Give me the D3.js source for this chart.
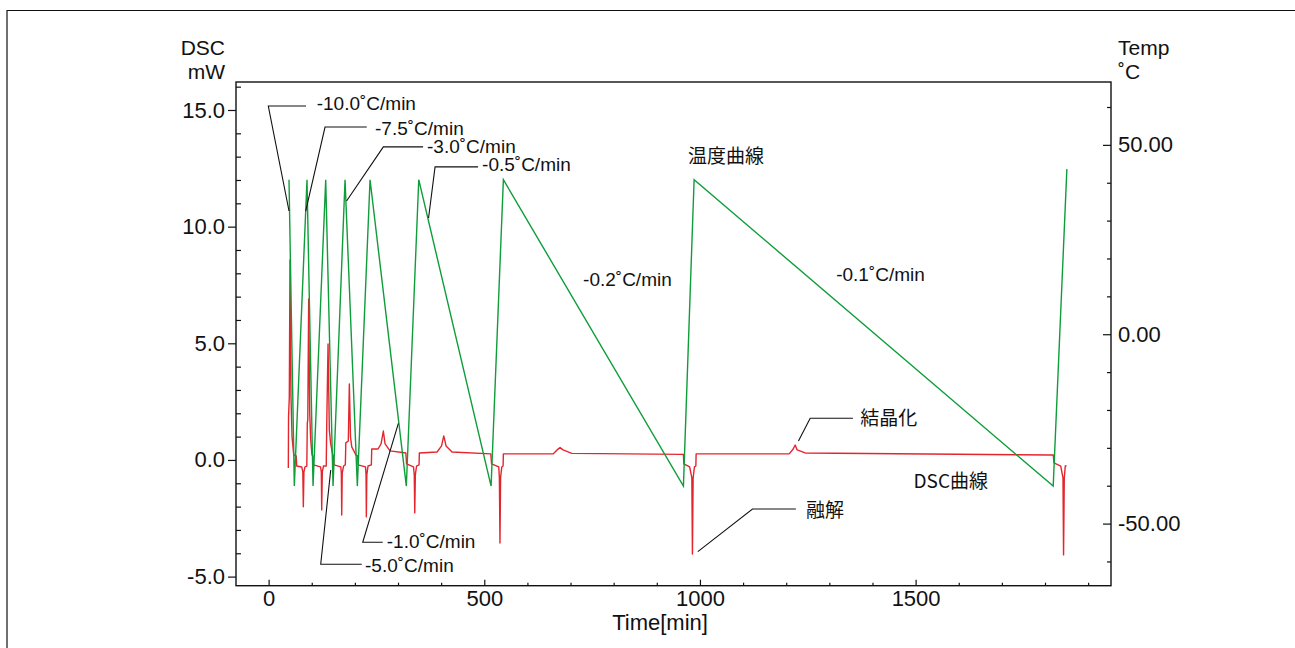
<!DOCTYPE html>
<html lang="ja">
<head>
<meta charset="UTF-8">
<title>DSC</title>
<script src="https://cdn.jsdelivr.net/npm/d3@7"></script>
<style>
    body { margin: 0; background: #fff; }
    svg { display: block; }
    text { font-family: "Liberation Sans", Arial, sans-serif; fill: #111; }
    .jp { font-family: "Noto Sans CJK JP", sans-serif; }
</style>
</head>
<body>
<script>

    // TEMPERATURE PROGRAM (time in min, temp in C)
    const tempTime = [47.3, 59.6, 89.0, 103.0, 132.4, 149.4, 177.2, 205.7, 235.2, 319.3, 348.1, 515.8, 544.3, 961.7, 986.5, 1819.0, 1850.7]
    const tempVal  = [40.8, -40.1, 40.8, -40.1, 40.8, -40.1, 40.8, -40.1, 40.8, -40.1, 40.8, -40.1, 40.8, -40.1, 40.8, -40.1, 43.6]

    // DSC SIGNAL (time in min, mW)
    const dscTime = [45.7, 46.2, 48.0, 49.6, 51.9, 54.3, 58.2, 64.0, 65.2, 76.8, 79.3, 80.5, 81.9, 84.4, 88.6,
        89.7, 90.8, 92.9, 95.3, 97.6, 100.6, 103.0, 104.1, 120.4, 122.2, 123.1, 124.5, 127.3,
        133.6, 134.7, 137.8, 140.8, 143.6, 148.7, 150.5, 151.7, 167.4, 168.6, 169.5, 170.7, 173.7,
        177.9, 179.0, 184.8, 187.2, 189.9, 192.7, 202.7, 206.6, 207.3, 224.7, 225.9, 226.6, 227.7, 230.5,
        238.2, 239.1, 253.7, 260.7, 266.0, 270.0, 281.5, 318.2, 319.8, 336.0, 337.7, 338.8, 340.2, 343.0,
        348.8, 349.5, 390.5, 401.0, 406.1, 411.4, 425.3, 515.1, 516.9, 533.6, 535.0, 536.4, 537.8, 540.6,
        543.6, 544.3, 659.5, 668.8, 675.7, 682.7, 702.9, 961.7, 962.6, 976.1, 981.2, 982.6, 984.2, 987.3,
        990.5, 991.2, 1206.9, 1216.2, 1220.8, 1225.4, 1244.0, 1819.2, 1820.8, 1836.5, 1841.7, 1843.0, 1844.7,
        1847.0, 1850.0]
    const dscVal = [-0.34, 1.84, 2.70, 8.57, 2.70, 0.99, 0.21, 0.17, -0.26, -0.30, -0.51, -2.01, -0.51, -0.30, -0.26,
        1.59, 1.71, 6.90, 2.01, 0.86, 0.21, 0.17, -0.21, -0.30, -0.51, -2.14, -0.51, -0.26,
        -0.26, 1.41, 4.97, 1.29, 0.73, 0.21, 0.17, -0.21, -0.30, -0.56, -2.36, -0.56, -0.26,
        -0.21, 0.73, 0.81, 3.26, 0.99, 0.56, 0.21, 0.17, -0.21, -0.30, -0.64, -2.44, -0.64, -0.26,
        -0.21, 0.47, 0.47, 0.69, 1.24, 0.69, 0.39, 0.30, -0.17, -0.30, -0.64, -2.27, -0.64, -0.26,
        -0.21, 0.30, 0.34, 0.60, 1.03, 0.60, 0.34, 0.26, -0.17, -0.30, -0.77, -3.56, -0.77, -0.30,
        -0.26, 0.26, 0.26, 0.43, 0.53, 0.43, 0.28, 0.24, -0.17, -0.30, -0.77, -4.03, -0.77, -0.30,
        -0.26, 0.26, 0.26, 0.47, 0.64, 0.43, 0.30, 0.21, -0.13, -0.26, -0.77, -4.07, -0.77,
        -0.26, -0.24]

    // TICKS
    const timeTicks = [0, 500, 1000, 1500]
    const dscTicks = [-5, 0, 5, 10, 15]
    const tempTicks = [-50, 0, 50]

    // CALLOUTS: [text, anchor t, anchor mW, elbow t, elbow mW, line end t, text t, text mW]
    const callouts = [
        ["-10.0˚C/min", 47.3, 10.67, -0.7, 15.17, 86.7, 111.5, 15.30],
        ["-7.5˚C/min", 86.0, 10.67, 130.8, 14.27, 227.5, 246.8, 14.23],
        ["-3.0˚C/min", 180.7, 11.10, 266.0, 13.42, 358.1, 367.3, 13.46],
        ["-0.5˚C/min", 370.8, 10.37, 385.9, 12.56, 485.6, 494.9, 12.69],
        ["-1.0˚C/min", 300.8, 1.57, 218.2, -3.53, 264.6, 273.9, -3.50],
        ["-5.0˚C/min", 144.0, -0.43, 120.8, -4.47, 215.9, 223.6, -4.50],
        ["結晶化", 1228.4, 0.81, 1255.6, 1.79, 1354.6, 1371.5, 1.79],
        ["融解", 995.1, -3.93, 1121.8, -2.10, 1222.4, 1245.6, -2.14]
    ]
    // FREE LABELS: [text, t, mW]
    const labels = [
        ["-0.2˚C/min", 729.1, 7.72],
        ["-0.1˚C/min", 1315.9, 7.97],
        ["温度曲線", 972.6, 13.03],
        ["DSC曲線", 1495.1, -0.93]
    ]

    const W = 1295, H = 648
    const mLeft = 236, mRight = 1111, mTop = 82, mBottom = 585.7

    let svg = d3.select("body").append("svg").attr("width", W).attr("height", H)

    // OUTER FRAME (top and left only)
    svg.append("path").attr("d", "M7,648V10.5H1295").attr("fill", "none").attr("stroke", "#111").attr("stroke-width", 1.2)

    // SCALES
    let x = d3.scaleLinear().domain([-75.6, 1953]).range([mLeft, mRight])
    let yL = d3.scaleLinear().domain([-5.39, 16.2]).range([mBottom, mTop])
    let yR = d3.scaleLinear().domain([-66.4, 66.6]).range([mBottom, mTop])

    // plain hyphen minus like the original software
    const fmt = f => (v => d3.format(f)(v).replace("−", "-"))

    // MINOR TICKS
    svg.append("g").attr("transform", `translate(${mLeft},0)`)
        .call(d3.axisLeft(yL).tickValues(d3.range(-5, 17, 1).filter(v => v % 5 != 0)).tickSize(-5).tickFormat(""))
    svg.append("g").attr("transform", `translate(${mRight},0)`)
        .call(d3.axisRight(yR).tickValues(d3.range(-60, 70, 10).filter(v => v % 50 != 0)).tickSize(-4).tickFormat(""))
    svg.append("g").attr("transform", `translate(0,${mBottom})`)
        .call(d3.axisBottom(x).tickValues(d3.range(0, 2000, 100).filter(v => v % 500 != 0)).tickSize(-3).tickFormat(""))

    // MAJOR TICKS
    svg.append("g").attr("class", "ax").attr("transform", `translate(${mLeft},0)`)
        .call(d3.axisLeft(yL).tickValues(dscTicks).tickSize(8).tickPadding(3).tickFormat(fmt(".1f")))
    svg.append("g").attr("class", "ax").attr("transform", `translate(${mRight},0)`)
        .call(d3.axisRight(yR).tickValues(tempTicks).tickSize(-8).tickPadding(7).tickFormat(fmt(".2f")))
    svg.append("g").attr("class", "ax").attr("transform", `translate(0,${mBottom})`)
        .call(d3.axisBottom(x).tickValues(timeTicks).tickSize(-6).tickPadding(5).tickFormat(fmt("d")))

    svg.selectAll(".domain").remove()
    svg.selectAll(".tick line").attr("stroke", "#111").attr("stroke-width", 1.2)
    svg.selectAll(".ax text").style("font-size", "22px").style("font-family", "'Liberation Sans', Arial, sans-serif").attr("fill", "#111")

    // PLOT FRAME
    svg.append("rect").attr("x", mLeft).attr("y", mTop).attr("width", mRight - mLeft).attr("height", mBottom - mTop)
        .attr("fill", "none").attr("stroke", "#111").attr("stroke-width", 1.4)

    // AXIS TITLES
    svg.append("text").attr("x", 225).attr("y", 55).attr("text-anchor", "end").style("font-size", "21px").text("DSC")
    svg.append("text").attr("x", 225).attr("y", 79).attr("text-anchor", "end").style("font-size", "21px").text("mW")
    svg.append("text").attr("x", 1118).attr("y", 55).style("font-size", "21px").text("Temp")
    svg.append("text").attr("x", 1118).attr("y", 79).style("font-size", "21px").text("˚C")
    svg.append("text").attr("x", 660).attr("y", 630).attr("text-anchor", "middle").style("font-size", "22px").text("Time[min]")

    // LINES
    let tempData = tempTime.map((t, i) => ({t: t, v: tempVal[i]}))
    let dscData = dscTime.map((t, i) => ({t: t, v: dscVal[i]}))

    let tempLine = d3.line().x(d => x(d.t)).y(d => yR(d.v))
    let dscLine = d3.line().x(d => x(d.t)).y(d => yL(d.v))

    svg.append("path").datum(dscData).attr("d", dscLine)
        .attr("fill", "none").attr("stroke", "#e3262e").attr("stroke-width", 1.4).attr("stroke-linejoin", "round")
    svg.append("path").datum(tempData).attr("d", tempLine)
        .attr("fill", "none").attr("stroke", "#0f9d3a").attr("stroke-width", 1.4)

    // CALLOUTS
    callouts.forEach(c => {
        svg.append("path")
            .attr("d", `M${x(c[1])},${yL(c[2])}L${x(c[3])},${yL(c[4])}H${x(c[5])}`)
            .attr("fill", "none").attr("stroke", "#111").attr("stroke-width", 1.1)
        svg.append("text").attr("x", x(c[6])).attr("y", yL(c[7])).attr("dy", "0.35em")
            .attr("class", /^[-0-9]/.test(c[0]) ? "" : "jp")
            .style("font-size", "19px").text(c[0])
    })
    labels.forEach(l => {
        svg.append("text").attr("x", x(l[1])).attr("y", yL(l[2])).attr("dy", "0.35em")
            .attr("class", /^[-0-9]/.test(l[0]) ? "" : "jp")
            .style("font-size", "19px").text(l[0])
    })

</script>
</body>
</html>
